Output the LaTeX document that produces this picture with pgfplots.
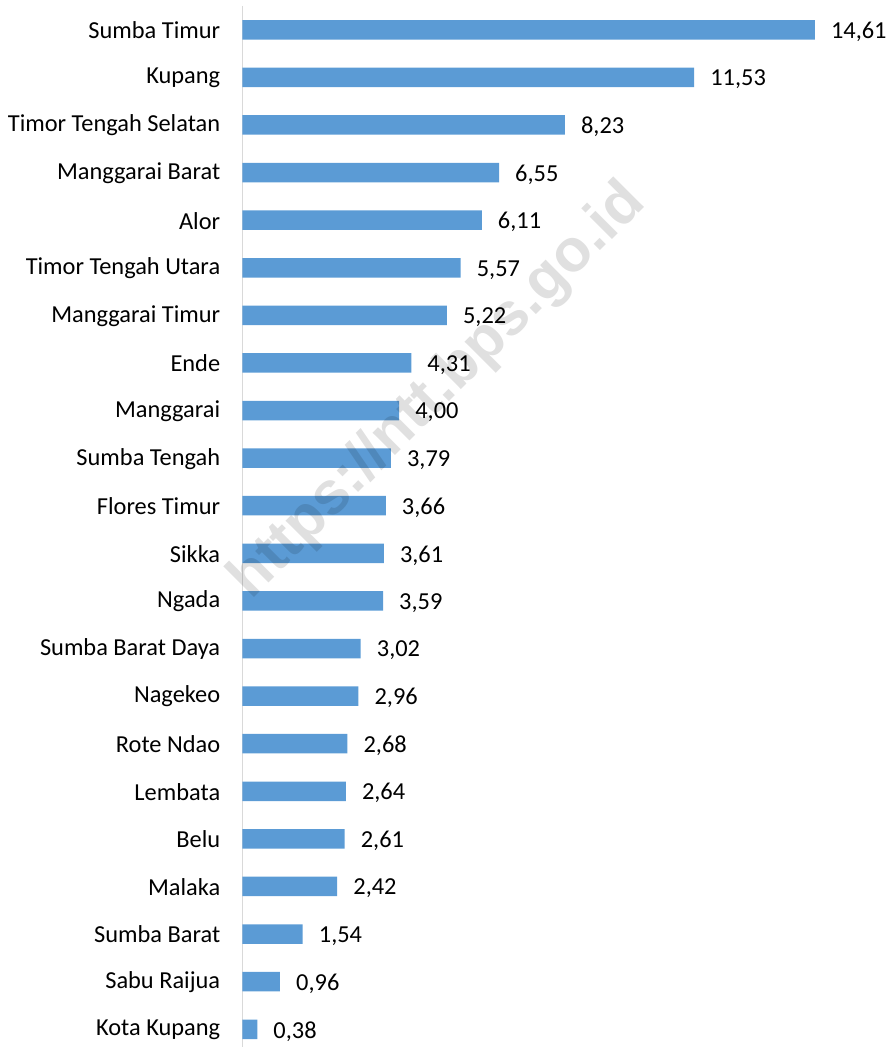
\documentclass[border=0pt]{standalone}
\usepackage{pgfplots}
\pgfplotsset{compat=1.18}
\usepackage{fontspec}
\setmainfont{Carlito}
\newfontfamily\wmfont{Liberation Sans}
\definecolor{barblue}{HTML}{5B9BD5}
\definecolor{axisgray}{HTML}{D9D9D9}
\newcommand\lf{\fontsize{24.4bp}{28bp}\selectfont}
\begin{document}
\begin{tikzpicture}
\begin{axis}[
  scale only axis, width=650bp, height=1041.8bp,
  xbar, bar width=19.5bp,
  xmin=0, xmax=16.58,
  ymin=-0.5, ymax=21.378, y dir=reverse,
  axis x line=none, axis y line*=left,
  y axis line style={draw=axisgray, line width=1.5bp},
  xtick=\empty,
  ytick={0,...,21},
  yticklabels={Sumba Timur, Kupang, Timor Tengah Selatan, Manggarai Barat, Alor, Timor Tengah Utara, Manggarai Timur\ , Ende, Manggarai, Sumba Tengah, Flores Timur, Sikka, Ngada, Sumba Barat Daya, Nagekeo, Rote Ndao, Lembata, Belu, Malaka\ , Sumba Barat, Sabu Raijua, Kota Kupang},
  major tick length=0pt,
  yticklabel style={font=\lf, inner sep=0pt, xshift=-22bp, yshift=-0.5bp, text=black},
  nodes near coords,
  nodes near coords style={font=\lf, anchor=west, inner sep=0pt, xshift=16bp, yshift=-2bp, text=black},
  clip=false,
  /pgf/number format/use comma,
  /pgf/number format/fixed,
  /pgf/number format/fixed zerofill,
  /pgf/number format/precision=2,
  /pgf/number format/assume math mode=true,
]
\addplot[fill=barblue, draw=none] coordinates {
(14.61,0) (11.53,1) (8.23,2) (6.55,3) (6.11,4) (5.57,5) (5.22,6) (4.31,7) (4.00,8) (3.79,9) (3.66,10)
(3.61,11) (3.59,12) (3.02,13) (2.96,14) (2.68,15) (2.64,16) (2.61,17) (2.42,18) (1.54,19) (0.96,20) (0.38,21)
};
\node[rotate=45, text=black, opacity=0.12, font=\wmfont\bfseries\fontsize{60bp}{66bp}\selectfont] at (axis cs:5.0,7.6) {https://ntt.bps.go.id};
\end{axis}
\path (current axis.south west) ++(-242.5bp,0) coordinate (a);
\path (current axis.north east) ++(0,6bp) coordinate (b);
\path (a) rectangle (b);
\end{tikzpicture}
\end{document}
